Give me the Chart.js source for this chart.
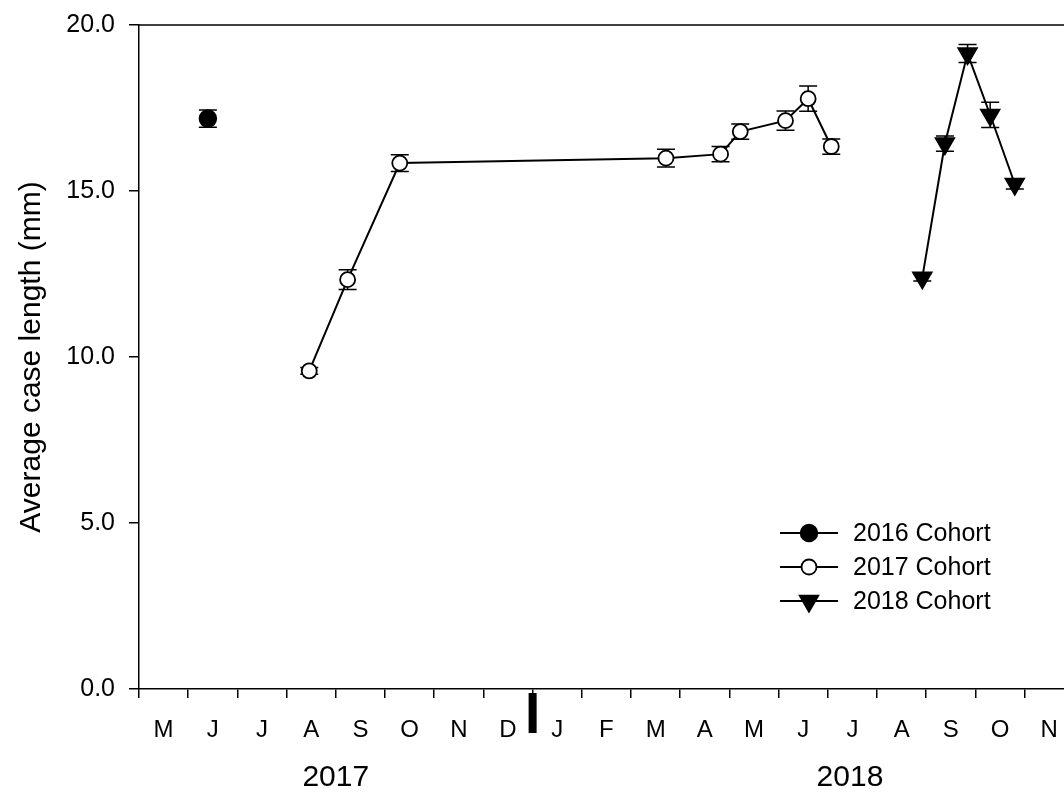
<!DOCTYPE html>
<html><head><meta charset="utf-8">
<script src="https://cdn.jsdelivr.net/npm/chart.js@4/dist/chart.umd.min.js"></script>
<style>html,body{margin:0;padding:0;background:#fff;overflow:hidden}</style>
</head><body>
<canvas id="c" width="1064" height="794"></canvas>
<script>
// ---- data (x = months since 1 May 2017) ----
const monthLabels = ['M','J','J','A','S','O','N','D','J','F','M','A','M','J','J','A','S','O','N'];
const yTickValues = [0, 5, 10, 15, 20];
const seriesNames = ['2016 Cohort', '2017 Cohort', '2018 Cohort'];
const yearLabels = ['2017', '2018'];
const yearLabelMonth = [4, 14.45];
const yearBoundaryMonth = 8;

const cohort2016Month = [1.40];
const cohort2016Length = [17.18];
const cohort2016SE = [0.26];

const cohort2017Month = [3.46, 4.24, 5.30, 10.71, 11.82, 12.22, 13.14, 13.60, 14.07];
const cohort2017Length = [9.58, 12.33, 15.84, 15.99, 16.11, 16.79, 17.12, 17.78, 16.34];
const cohort2017SE = [0.10, 0.30, 0.25, 0.27, 0.23, 0.23, 0.29, 0.38, 0.23];

const cohort2018Month = [15.92, 16.38, 16.84, 17.30, 17.80];
const cohort2018Length = [12.39, 16.43, 19.14, 17.29, 15.21];
const cohort2018SE = [0.10, 0.23, 0.27, 0.38, 0.15];

const FONT = '"Liberation Sans", Arial, Helvetica, sans-serif';
const pts = (xs, ys) => xs.map((x, i) => ({x: x, y: ys[i]}));

const markerStyles = [
  {pointStyle: 'circle', radius: 8.5, rotation: 0, fill: '#000', borderWidth: 1.5},
  {pointStyle: 'circle', radius: 7.5, rotation: 0, fill: '#fff', borderWidth: 1.8},
  {pointStyle: 'triangle', radius: 11, rotation: 180, fill: '#000', borderWidth: 1.5}
];

function ds(i, xs, ys, se, line) {
  const m = markerStyles[i];
  return {
    label: seriesNames[i], data: pts(xs, ys), errors: se,
    showLine: line, borderColor: '#000', borderWidth: 2, tension: 0,
    pointStyle: m.pointStyle, pointRotation: m.rotation, pointRadius: m.radius,
    pointBackgroundColor: m.fill, pointBorderColor: '#000', pointBorderWidth: m.borderWidth,
    pointHoverRadius: m.radius
  };
}

const errorBars = {
  id: 'errorBars',
  beforeDatasetsDraw(chart) {
    const ctx = chart.ctx, y = chart.scales.y, x = chart.scales.x;
    ctx.save();
    ctx.strokeStyle = '#000'; ctx.lineWidth = 1.5;
    chart.data.datasets.forEach(d => {
      d.data.forEach((p, i) => {
        const e = d.errors[i];
        const px = x.getPixelForValue(p.x);
        const top = y.getPixelForValue(p.y + e), bot = y.getPixelForValue(p.y - e);
        ctx.beginPath();
        ctx.moveTo(px, top); ctx.lineTo(px, bot);
        ctx.moveTo(px - 9, top); ctx.lineTo(px + 9, top);
        ctx.moveTo(px - 9, bot); ctx.lineTo(px + 9, bot);
        ctx.stroke();
      });
    });
    ctx.restore();
  }
};

const decorations = {
  id: 'decorations',
  afterDraw(chart) {
    const ctx = chart.ctx, a = chart.chartArea, x = chart.scales.x;
    ctx.save();
    // top frame line
    ctx.strokeStyle = '#000'; ctx.lineWidth = 1.5;
    ctx.beginPath(); ctx.moveTo(a.left, a.top); ctx.lineTo(a.right, a.top); ctx.stroke();
    // year boundary bar
    const bx = x.getPixelForValue(yearBoundaryMonth);
    ctx.fillStyle = '#000';
    ctx.fillRect(bx - 4, a.bottom + 4, 8, 40);
    // year labels
    ctx.font = '30px ' + FONT;
    ctx.textAlign = 'center'; ctx.textBaseline = 'middle';
    yearLabels.forEach((t, i) => ctx.fillText(t, x.getPixelForValue(yearLabelMonth[i]), a.bottom + 89));
    // legend
    const lx0 = 780, lx1 = 838, mx = 809, tx = 853, rowY = [533, 567, 601];
    chart.data.datasets.forEach((d, i) => {
      const m = markerStyles[i];
      ctx.strokeStyle = '#000'; ctx.lineWidth = 2;
      ctx.beginPath(); ctx.moveTo(lx0, rowY[i]); ctx.lineTo(lx1, rowY[i]); ctx.stroke();
      ctx.fillStyle = m.fill; ctx.strokeStyle = '#000'; ctx.lineWidth = m.borderWidth;
      Chart.helpers.drawPoint(ctx, {pointStyle: m.pointStyle, rotation: m.rotation, radius: m.radius, borderWidth: m.borderWidth}, mx, rowY[i]);
      ctx.fillStyle = '#000';
      ctx.font = '25px ' + FONT; ctx.textAlign = 'left'; ctx.textBaseline = 'middle';
      ctx.fillText(d.label, tx, rowY[i] + 1);
    });
    ctx.restore();
  }
};

new Chart(document.getElementById('c'), {
  type: 'scatter',
  data: {
    datasets: [
      ds(0, cohort2016Month, cohort2016Length, cohort2016SE, false),
      ds(1, cohort2017Month, cohort2017Length, cohort2017SE, true),
      ds(2, cohort2018Month, cohort2018Length, cohort2018SE, true)
    ]
  },
  options: {
    responsive: false, animation: false, devicePixelRatio: 1,
    layout: {autoPadding: false, padding: {top: 25, right: 0, left: 0, bottom: 0}},
    plugins: {legend: {display: false}, tooltip: {enabled: false}},
    scales: {
      x: {
        type: 'linear', min: 0, max: 18.8,
        afterFit(s) { s.height = 105; s.paddingLeft = 0; s.paddingRight = 0; },
        border: {display: true, color: '#000', width: 1.5},
        grid: {drawOnChartArea: false, drawTicks: true, tickLength: 9, color: '#000', lineWidth: 1.5},
        ticks: {
          stepSize: 1, includeBounds: false, autoSkip: false, maxRotation: 0, minRotation: 0,
          labelOffset: 24.6, padding: 18, color: '#000', font: {family: FONT, size: 24},
          callback: (v) => monthLabels[v] !== undefined ? monthLabels[v] : ''
        }
      },
      y: {
        min: 0, max: 20,
        afterFit(s) { s.width = 139; s.paddingTop = 0; s.paddingBottom = 0; },
        afterBuildTicks(s) { s.ticks = yTickValues.map(v => ({value: v})); },
        border: {display: true, color: '#000', width: 1.5},
        grid: {drawOnChartArea: false, drawTicks: true, tickLength: 10, color: '#000', lineWidth: 1.5},
        ticks: {padding: 14, color: '#000', font: {family: FONT, size: 25}, callback: (v) => Number(v).toFixed(1)},
        title: {display: true, text: 'Average case length (mm)', color: '#000', font: {family: FONT, size: 30}, padding: {top: 14, bottom: 0}}
      }
    }
  },
  plugins: [errorBars, decorations]
});
</script>
</body></html>
